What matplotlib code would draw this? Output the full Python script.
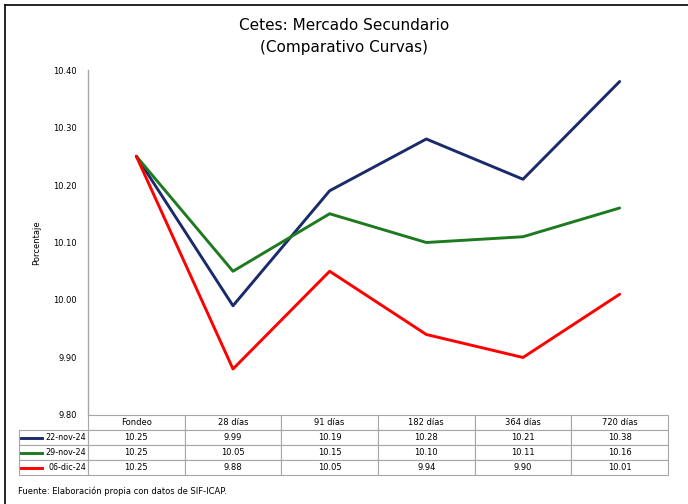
import matplotlib.pyplot as plt
from matplotlib.lines import Line2D

# Plazos y tasas por fecha de cierre
plazos = ['Fondeo', '28 días', '91 días', '182 días', '364 días', '720 días']
fechas = ['22-nov-24', '29-nov-24', '06-dic-24']
tasas_22nov = [10.25, 9.99, 10.19, 10.28, 10.21, 10.38]
tasas_29nov = [10.25, 10.05, 10.15, 10.10, 10.11, 10.16]
tasas_06dic = [10.25, 9.88, 10.05, 9.94, 9.90, 10.01]
colores = ['#1B2A6B', '#1E7A1E', '#FF0000']
yticks = [9.80, 9.90, 10.00, 10.10, 10.20, 10.30, 10.40]

series = [tasas_22nov, tasas_29nov, tasas_06dic]

fig = plt.figure(figsize=(6.88, 5.04), dpi=100)
ax = fig.add_axes([0.1279, 0.1766, 0.843, 0.6845])

x = list(range(len(plazos)))
for vals, col in zip(series, colores):
    ax.plot(x, vals, color=col, lw=2.1, solid_capstyle='round')

ax.set_xlim(-0.5, len(plazos) - 0.5)
ax.set_ylim(9.80, 10.40)
ax.set_yticks(yticks)
ax.set_yticklabels([f'{v:.2f}' for v in yticks], fontsize=6)
ax.tick_params(axis='y', length=0, pad=8)
ax.set_xticks([])
for s in ['top', 'right', 'bottom']:
    ax.spines[s].set_visible(False)
ax.spines['left'].set_color('#A6A6A6')
ax.spines['left'].set_linewidth(1)

ax.set_ylabel('Porcentaje', fontsize=6)
ax.yaxis.set_label_coords(-0.08, 0.5)

# Tabla de datos bajo la gráfica (primera columna = fecha)
row_w = 0.119
row_h = 0.0435
celdas = [[f] + [f'{v:.2f}' for v in vals] for f, vals in zip(fechas, series)]
tabla = ax.table(cellText=celdas, colLabels=[''] + plazos,
                 cellLoc='center',
                 colWidths=[row_w] + [1 / 6] * 6,
                 bbox=[-row_w, -4 * row_h, 1 + row_w, 4 * row_h])
tabla.auto_set_font_size(False)
tabla.set_fontsize(6)
for (r, c), cell in tabla.get_celld().items():
    cell.set_edgecolor('#A6A6A6')
    cell.set_linewidth(0.8)
    if c == 0:
        cell.PAD = 0.03
        cell.get_text().set_ha('right')
        cell.get_text().set_fontsize(5.8)
tabla[0, 0].set_visible(False)

# Claves de color en la columna de fechas
for i, col in enumerate(colores):
    yc = -(i + 1.5) * row_h
    ax.add_line(Line2D([-0.116, -0.079], [yc, yc], color=col, lw=2.1,
                       transform=ax.transAxes, clip_on=False))

fig.text(0.5, 0.928, 'Cetes: Mercado Secundario\n(Comparativo Curvas)',
         ha='center', va='center', fontsize=11, linespacing=1.6)
fig.text(0.026, 0.025, 'Fuente: Elaboración propia con datos de SIF-ICAP.',
         ha='left', va='center', fontsize=6)

# Marco superior e izquierdo
fig.add_artist(Line2D([5 / 688, 1], [1 - 5 / 504, 1 - 5 / 504], color='black', lw=1.2))
fig.add_artist(Line2D([5 / 688, 5 / 688], [0, 1 - 5 / 504], color='black', lw=1.2))

fig.savefig('out.png', dpi=100)
